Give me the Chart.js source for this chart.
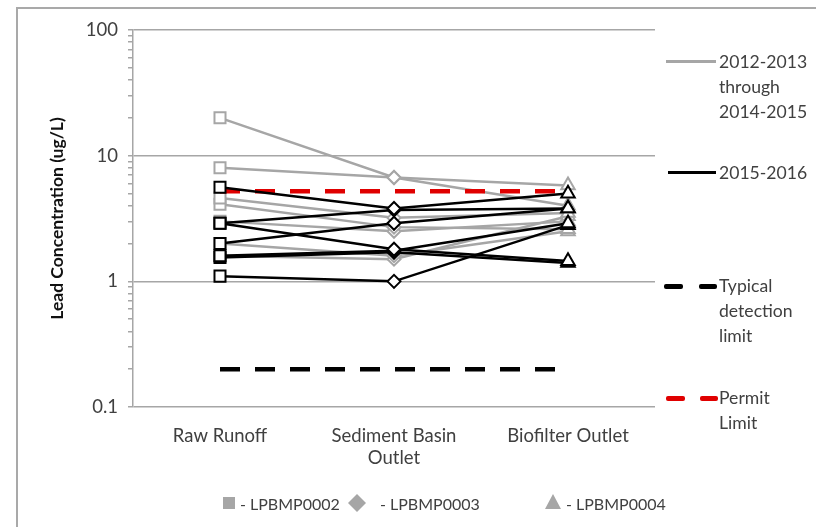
<!DOCTYPE html>
<html>
<head>
<meta charset="utf-8">
<script src="https://cdn.jsdelivr.net/npm/chart.js@4.4.0/dist/chart.umd.min.js"></script>
<style>
  html, body { margin:0; padding:0; background:#fff; }
  #wrap { position:relative; width:816px; height:527px; overflow:hidden; font-family:Lato, "Open Sans", sans-serif; color:#404040; }
  #frame { position:absolute; left:16px; top:7px; width:840px; height:560px; border:2px solid #a9a9a9; box-sizing:border-box; }
  #c { position:absolute; left:0; top:0; }
  .lg { position:absolute; font-size:17.6px; line-height:25px; color:#404040; white-space:nowrap; }
  .lb { position:absolute; font-size:16px; line-height:25px; color:#404040; white-space:nowrap; }
  .ln { position:absolute; height:3px; }
  .dash { position:absolute; height:5px; border-radius:2px; }
</style>
</head>
<body>
<div id="wrap">
  <div id="frame"></div>
  <canvas id="c" width="816" height="527"></canvas>

  <div class="ln" style="left:666px;top:60px;width:50px;background:#a6a6a6"></div>
  <div class="lg" style="left:719px;top:49px">2012-2013<br>through<br>2014-2015</div>

  <div class="ln" style="left:668px;top:171px;width:48px;background:#000"></div>
  <div class="lg" style="left:719px;top:160px">2015-2016</div>

  <div class="dash" style="left:664px;top:284px;width:19px;background:#000"></div>
  <div class="dash" style="left:699px;top:284px;width:18px;background:#000"></div>
  <div class="lg" style="left:719px;top:273px">Typical<br>detection<br>limit</div>

  <div class="dash" style="left:666px;top:396px;width:19px;background:#e00000"></div>
  <div class="dash" style="left:700px;top:396px;width:18px;background:#e00000"></div>
  <div class="lg" style="left:719px;top:385px">Permit<br>Limit</div>

  <svg style="position:absolute;left:0;top:0" width="816" height="527">
    <rect x="223" y="497" width="12" height="12" fill="#a6a6a6"/>
    <polygon points="357,494 366,503 357,512 348,503" fill="#a6a6a6"/>
    <polygon points="553,494 561,509 545,509" fill="#a6a6a6"/>
  </svg>
  <div class="lb" style="left:240px;top:491px">- LPBMP0002</div>
  <div class="lb" style="left:380px;top:491px">- LPBMP0003</div>
  <div class="lb" style="left:566px;top:491px">- LPBMP0004</div>
</div>
<script>
// ---- data ----
const categories = [['Raw Runoff'], ['Sediment Basin', 'Outlet'], ['Biofilter Outlet']];
// 2012-2013 through 2014-2015 monitoring (gray)
const gray1 = [20, 6.7, 5.8];
const gray2 = [8, 6.7, 4.0];
const gray3 = [4.6, 3.2, 3.5];
const gray4 = [4.1, 2.7, 2.6];
const gray5 = [3.0, 2.5, 3.0];
const gray6 = [2.0, 1.6, 2.5];
const gray7 = [1.6, 1.5, 3.3];
// 2015-2016 monitoring (black)
const black1 = [5.6, 3.8, 5.0];
const black2 = [2.9, 3.7, 3.8];
const black3 = [2.9, 1.8, 1.45];
const black4 = [2.0, 2.9, 3.8];
const black5 = [1.6, 1.75, 2.9];
const black6 = [1.55, 1.7, 1.4];
const black7 = [1.1, 1.0, 2.8];
const detectionLimit = [0.2, 0.2, 0.2];
const permitLimit = [5.2, 5.2, 5.2];
const yMajorTicks = [0.1, 1, 10, 100];
const yMinorTicks = [0.2,0.3,0.4,0.5,0.6,0.7,0.8,0.9, 2,3,4,5,6,7,8,9, 20,30,40,50,60,70,80,90];

const grayColor = '#a6a6a6';
const pointStyles = ['rect', 'rectRot', 'triangle'];
const pointSizes = [7.8, 6.5, 7.8];

function seriesDataset(values, color, order) {
  return {
    data: values,
    borderColor: color,
    backgroundColor: '#ffffff',
    borderWidth: 2.5,
    pointStyle: pointStyles,
    pointRadius: pointSizes,
    pointBorderColor: color,
    pointBackgroundColor: '#ffffff',
    pointBorderWidth: 2,
    tension: 0,
    order: order
  };
}
function limitDataset(values, color, order) {
  return {
    data: values,
    borderColor: color,
    borderWidth: 4.5,
    borderDash: [20, 15],
    pointRadius: 0,
    order: order
  };
}

const datasets = [];
[black1, black2, black3, black4, black5, black6, black7].forEach(s => datasets.push(seriesDataset(s, '#000000', 0)));
datasets.push(limitDataset(detectionLimit, '#000000', 1));
datasets.push(limitDataset(permitLimit, '#e00000', 1));
[gray1, gray2, gray3, gray4, gray5, gray6, gray7].forEach(s => datasets.push(seriesDataset(s, grayColor, 2)));

const fam = 'Lato, "Open Sans", sans-serif';

new Chart(document.getElementById('c'), {
  type: 'line',
  data: { labels: categories, datasets: datasets },
  options: {
    responsive: false,
    animation: false,
    layout: { padding: { left: 17, top: 30, right: 161, bottom: 0 } },
    plugins: { legend: { display: false }, tooltip: { enabled: false } },
    scales: {
      x: {
        offset: true,
        grid: { display: false, drawTicks: false },
        border: { display: false },
        ticks: { font: { family: fam, size: 18.5, lineHeight: 1.2 }, color: '#404040', padding: 18, maxRotation: 0 },
        afterFit: s => { s.height = 120; }
      },
      y: {
        type: 'logarithmic',
        min: 0.1, max: 100,
        afterBuildTicks: s => {
          const all = yMajorTicks.concat(yMinorTicks).sort((a, b) => a - b);
          s.ticks = all.map(v => ({ value: v, major: yMajorTicks.includes(v) }));
        },
        ticks: {
          font: { family: fam, size: 18.5 },
          color: '#404040',
          padding: 10,
          autoSkip: false,
          callback: (v) => yMajorTicks.includes(v) ? String(v) : ''
        },
        grid: {
          color: ctx => (ctx.tick && ctx.tick.major) ? '#a6a6a6' : 'rgba(0,0,0,0)',
          tickColor: '#a6a6a6',
          tickLength: 5,
          lineWidth: 1.5
        },
        border: { color: '#a6a6a6', width: 1.5 },
        title: {
          display: true,
          text: 'Lead Concentration (ug/L)',
          font: { family: fam, size: 17.5, weight: 'bold', lineHeight: 1.2 },
          color: '#111111',
          padding: { top: 30, bottom: 0 }
        },
        afterFit: s => { s.width = 116; }
      }
    }
  }
});
</script>
</body>
</html>
